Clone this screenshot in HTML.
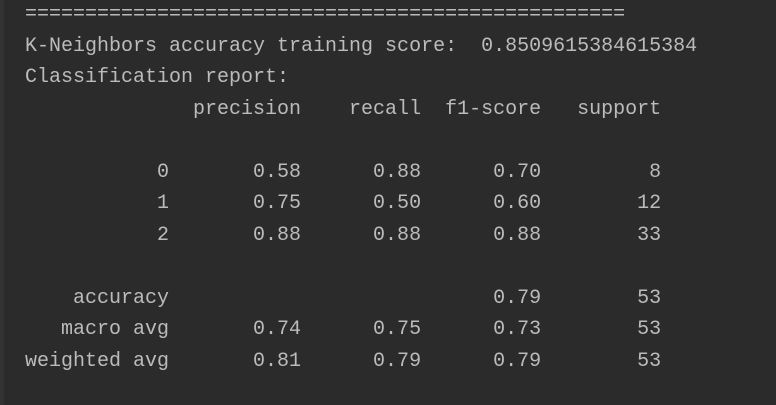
<!DOCTYPE html>
<html><head><meta charset="utf-8"><style>
html,body{margin:0;padding:0;width:776px;height:405px;overflow:hidden;background:#2b2b2b;}
#strip{position:absolute;left:0;top:0;width:4px;height:405px;background:#313335;}
pre{position:absolute;left:25px;top:-1px;margin:0;font-family:"Liberation Mono",monospace;font-size:20px;line-height:31.5px;color:#bbbbbb;white-space:pre;}
</style></head><body>
<div id="strip"></div>
<pre>==================================================
K-Neighbors accuracy training score:  0.8509615384615384
Classification report:
              precision    recall  f1-score   support

           0       0.58      0.88      0.70         8
           1       0.75      0.50      0.60        12
           2       0.88      0.88      0.88        33

    accuracy                           0.79        53
   macro avg       0.74      0.75      0.73        53
weighted avg       0.81      0.79      0.79        53
</pre>
</body></html>
